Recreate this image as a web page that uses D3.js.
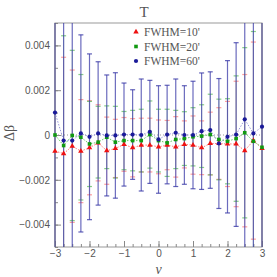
<!DOCTYPE html>
<html>
<head>
<meta charset="utf-8">
<script src="https://cdn.jsdelivr.net/npm/d3@7"></script>
<style>
  body { margin: 0; background: #fff; }
  .axis text { font-family: "Liberation Sans", Arial, sans-serif; font-size: 10px; fill: #555; }
  .axis line { stroke: #888; }
  .axis path { display: none; }
  .serif { font-family: "Liberation Serif", "Times New Roman", serif; fill: #555; }
</style>
</head>
<body>
<div id="chart"></div>
<script>
// nu positions
const nu = [-3, -2.75, -2.5, -2.25, -2, -1.75, -1.5, -1.25, -1, -0.75, -0.5, -0.25, 0,
            0.25, 0.5, 0.75, 1, 1.25, 1.5, 1.75, 2, 2.25, 2.5, 2.75, 3];

// FWHM = 10'
const val10 = [-0.00072, -0.00083, -0.0005, -0.00072, -0.00057, -0.00035, -0.0007, -0.0006, -0.00042, -0.00057,
               -0.00045, -0.00045, -0.00053, -0.00045, -0.00053, -0.00042, -0.00045, -0.00057, -0.00038, -0.00038,
               -0.0004, -0.0004, -0.0007, -0.00025, -0.0006];
const err10 = [0.007, 0.0043, 0.0034, 0.0023, 0.0021, 0.0017, 0.0015, 0.0013, 0.0012, 0.0013,
               0.0012, 0.0012, 0.0012, 0.0011, 0.00135, 0.00105, 0.0013, 0.0012, 0.0014, 0.0016,
               0.0019, 0.0028, 0.0034, 0.0044, 0.007];

// FWHM = 20'
const val20 = [0.0, -0.00047, -0.00002, -0.0001, -0.0004, -0.00032, -0.0001, -0.00032, -0.00025, -0.00025,
               -0.00025, 0.00002, -0.00025, -0.00035, -0.0002, -0.00016, -0.00008, -0.00005, 0.00002, -0.0002,
               -0.00028, -0.00016, 0.0001, -0.00028, -0.00055];
const err20 = [0.007, 0.0049, 0.0038, 0.0028, 0.0019, 0.0016, 0.0014, 0.0016, 0.0013, 0.00135,
               0.0014, 0.0015, 0.0014, 0.0015, 0.0013, 0.0012, 0.0013, 0.0014, 0.0018, 0.0018,
               0.0019, 0.0028, 0.0038, 0.0049, 0.007];

// FWHM = 60'
const val60 = [0.001, -0.00025, -0.00025, 0.00007, -0.00008, 0.00007, -0.00002, -0.00002, 0.00002, 0.00002,
               0.0, 0.00014, -0.0002, 0.00002, 0.0001, 0.0, 0.0, 0.00017, 0.00022, -0.00038,
               -0.00008, 0.00002, 0.0007, 0.00007, 0.00037];
const err60 = [0.008, 0.007, 0.006, 0.0044, 0.0037, 0.0032, 0.0027, 0.0028, 0.0023, 0.002,
               0.0025, 0.0023, 0.0024, 0.0022, 0.0024, 0.0022, 0.0024, 0.0026, 0.0026, 0.0029,
               0.0034, 0.0041, 0.006, 0.007, 0.008];

const yTicks = [-0.004, -0.002, 0, 0.002, 0.004];
const xTicks = [-3, -2, -1, 0, 1, 2, 3];
const legendLabels = ["FWHM=10'", "FWHM=20'", "FWHM=60'"];

const W = 277, H = 277;
const margin = {top: 23, right: 15, bottom: 30, left: 55};

const svg = d3.select("#chart").append("svg")
    .attr("width", W)
    .attr("height", H);

const x = d3.scaleLinear().domain([-3, 3]).range([margin.left, W - margin.right]);
const y = d3.scaleLinear().domain([-0.005, 0.005]).range([H - margin.bottom, margin.top]);

svg.append("clipPath").attr("id", "plotclip")
  .append("rect")
    .attr("x", x(-3) - 3).attr("y", y(0.005))
    .attr("width", x(3) - x(-3) + 6).attr("height", y(-0.005) - y(0.005));

const series = [
  {name: legendLabels[0], vals: val10, errs: err10, color: "#ee1111", bar: "#ff7777", line: "#ff7777", shape: d3.symbolTriangle, size: 13},
  {name: legendLabels[1], vals: val20, errs: err20, color: "#119911", bar: "#55bb55", line: "#66cc66", shape: d3.symbolSquare, size: 13},
  {name: legendLabels[2], vals: val60, errs: err60, color: "#1a1a99", bar: "#3a3aa8", line: "#9999dd", shape: d3.symbolCircle, size: 14}
];
series.forEach(s => {
  s.pts = nu.map((v, i) => ({nu: v, val: s.vals[i], err: s.errs[i]}));
});

// frame
svg.append("rect")
    .attr("x", x(-3)).attr("y", y(0.005))
    .attr("width", x(3) - x(-3)).attr("height", y(-0.005) - y(0.005))
    .attr("fill", "none").attr("stroke", "#999").attr("stroke-width", 1);

// axes, ticks inside
svg.append("g").attr("class", "axis")
    .attr("transform", `translate(${x(-3)},0)`)
    .call(d3.axisLeft(y).tickValues(yTicks)
        .tickFormat(d => d === 0 ? "0" : d3.format(".3f")(d))
        .tickSizeInner(-6).tickSizeOuter(0).tickPadding(5));

svg.append("g").attr("class", "axis")
    .attr("transform", `translate(${x(-3)},0)`)
    .call(d3.axisLeft(y).tickValues(d3.range(-0.005, 0.0051, 0.001))
        .tickFormat("").tickSizeInner(-3).tickSizeOuter(0));

svg.append("g").attr("class", "axis")
    .attr("transform", `translate(0,${y(-0.005)})`)
    .call(d3.axisBottom(x).tickValues(xTicks).tickFormat(d3.format("d"))
        .tickSizeInner(-6).tickSizeOuter(0).tickPadding(3));

svg.append("g").attr("class", "axis")
    .attr("transform", `translate(0,${y(-0.005)})`)
    .call(d3.axisBottom(x).tickValues(nu).tickFormat("")
        .tickSizeInner(-3).tickSizeOuter(0));

// zero line
svg.append("line")
    .attr("x1", x(-3)).attr("x2", x(3))
    .attr("y1", y(0)).attr("y2", y(0))
    .attr("stroke", "#999").attr("stroke-dasharray", "1,2");

const plot = svg.append("g").attr("clip-path", "url(#plotclip)");

// error bars
series.forEach((s, k) => {
  const g = plot.append("g");
  g.selectAll("line.bar")
    .data(s.pts).enter()
    .append("line")
      .attr("x1", d => x(d.nu)).attr("x2", d => x(d.nu))
      .attr("y1", d => y(d.val - d.err)).attr("y2", d => y(d.val + d.err))
      .attr("stroke", s.bar)
      .attr("stroke-width", k === 2 ? 1.2 : 1)
      .attr("opacity", k === 2 ? 0.75 : 0.35);
  ["lo", "hi"].forEach(end => {
    g.selectAll("line.cap" + end)
      .data(s.pts).enter()
      .append("line")
        .attr("x1", d => x(d.nu) - 2.5).attr("x2", d => x(d.nu) + 2.5)
        .attr("y1", d => y(end === "hi" ? d.val + d.err : d.val - d.err))
        .attr("y2", d => y(end === "hi" ? d.val + d.err : d.val - d.err))
        .attr("stroke", s.bar)
        .attr("stroke-width", 1.2)
        .attr("opacity", k === 2 ? 0.8 : 0.7);
  });
});

// dotted connectors
const line = d3.line().x(d => x(d.nu)).y(d => y(d.val));
series.forEach(s => {
  plot.append("path")
    .attr("d", line(s.pts))
    .attr("fill", "none")
    .attr("stroke", s.line)
    .attr("stroke-width", 1)
    .attr("stroke-dasharray", "1.5,1.5");
});

// markers
series.forEach(s => {
  plot.selectAll(null)
    .data(s.pts).enter()
    .append("path")
      .attr("transform", d => `translate(${x(d.nu)},${y(d.val)})`)
      .attr("d", d3.symbol().type(s.shape).size(s.size))
      .attr("fill", s.color);
});

// legend
const legend = svg.append("g").attr("transform", "translate(136,32)");
series.forEach((s, i) => {
  const row = legend.append("g").attr("transform", `translate(0,${i * 14.5})`);
  row.append("path")
    .attr("d", d3.symbol().type(s.shape).size(s.size))
    .attr("fill", s.color);
  row.append("text")
    .attr("class", "serif")
    .attr("x", 8).attr("y", 4)
    .attr("font-size", "11.5px")
    .text(s.name);
});

// titles
svg.append("text").attr("class", "serif")
    .attr("x", 144).attr("y", 17)
    .attr("text-anchor", "middle")
    .attr("font-size", "15px")
    .text("T");

svg.append("text").attr("class", "serif")
    .attr("transform", "translate(14,133) rotate(-90)")
    .attr("text-anchor", "middle")
    .attr("font-size", "14px")
    .text("Δβ");

svg.append("text").attr("class", "serif")
    .attr("x", x(0)).attr("y", 274)
    .attr("text-anchor", "middle")
    .attr("font-size", "14px")
    .attr("font-style", "italic")
    .text("ν");
</script>
</body>
</html>
